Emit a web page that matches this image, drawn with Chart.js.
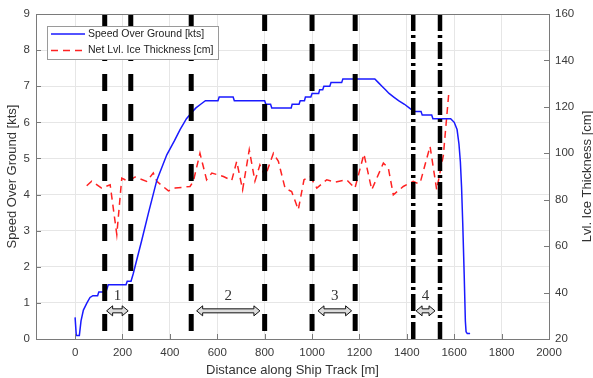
<!DOCTYPE html>
<html>
<head>
<meta charset="utf-8">
<script src="https://cdn.jsdelivr.net/npm/chart.js@4.4.1/dist/chart.umd.min.js"></script>
<style>
  html, body { margin: 0; padding: 0; background: #fff; }
  #wrap { width: 593px; height: 378px; position: relative; }
</style>
</head>
<body>
<div id="wrap"><canvas id="chart"></canvas></div>
<script>
// Speed over ground [kts] vs distance [m] (step corners)
var speedDist = [0, 5, 18, 25, 35, 50, 63, 75, 95, 100, 130, 135, 140, 215, 220, 236, 245,
    280, 310, 345, 387, 420, 443, 470, 492, 510, 530, 550, 603, 608, 667, 672, 800, 805, 825, 830,
    912, 916, 945, 950, 968, 972, 995, 1000, 1028, 1032, 1045, 1050, 1075, 1080, 1125, 1130,
    1265, 1280, 1295, 1310, 1325, 1345, 1365, 1390, 1410, 1430, 1460, 1465, 1505, 1510, 1585,
    1600, 1612, 1620, 1626, 1631, 1636, 1642, 1647, 1650, 1655, 1667];
var speedKts = [0.6, 0.1, 0.1, 0.5, 0.8, 1.0, 1.15, 1.2, 1.2, 1.3, 1.3, 1.4, 1.5, 1.5, 1.6, 1.6, 1.8,
    2.7, 3.5, 4.4, 5.1, 5.5, 5.8, 6.1, 6.27, 6.4, 6.5, 6.6, 6.6, 6.7, 6.7, 6.6, 6.6, 6.5, 6.5, 6.4,
    6.4, 6.5, 6.5, 6.6, 6.6, 6.7, 6.7, 6.8, 6.8, 6.9, 6.9, 7.0, 7.0, 7.1, 7.1, 7.2,
    7.2, 7.1, 7.0, 6.9, 6.8, 6.7, 6.6, 6.5, 6.4, 6.3, 6.3, 6.2, 6.2, 6.1, 6.1,
    6.0, 5.8, 5.4, 4.9, 4.2, 3.2, 1.8, 0.5, 0.2, 0.15, 0.15];

// Net level ice thickness [cm] vs distance [m]
var iceDist = [49, 70, 112, 148, 176, 197, 225, 253, 302, 330, 345, 394, 422, 485, 499, 527, 555,
    577, 626, 661, 682, 707, 735, 759, 780, 802, 837, 858, 886, 914, 942, 966, 992, 1020, 1062,
    1097, 1146, 1181, 1219, 1252, 1301, 1322, 1343, 1385, 1427, 1441, 1456, 1498, 1526, 1554, 1578];
var iceCm = [86, 88, 85, 86.4, 65, 89.3, 87.9, 89.8, 87.9, 91.5, 87.9, 83.8, 85, 85.7, 87.9, 100, 88.6,
    91.5, 90, 88.3, 96.5, 84.3, 101.5, 88, 95, 90, 100, 96.5, 85, 83.5, 75.7, 88.6, 90, 85, 88.6,
    87.6, 88.6, 85, 99.7, 84.3, 95.8, 93.6, 82.1, 85.7, 87.9, 87.2, 87.2, 103, 84.3, 99, 127];

// Section boundaries [m]
var dashedAt = [125, 235, 490, 800, 1000, 1182];
var dashDotAt = [1427, 1540];

// Section arrows [m] and their labels
var arrowFrom = [133, 513, 1025, 1439];
var arrowTo = [224, 780, 1167, 1519];
var arrowLabels = ['1', '2', '3', '4'];
var arrowLevel = 0.78;

// Axis ticks
var xTicks = [0, 200, 400, 600, 800, 1000, 1200, 1400, 1600, 1800, 2000];
var speedTicks = [0, 1, 2, 3, 4, 5, 6, 7, 8, 9];
var iceTicks = [20, 40, 60, 80, 100, 120, 140, 160];

var SANS = '"Liberation Sans", Arial, sans-serif';
var SERIF = '"Liberation Serif", "DejaVu Serif", serif';
var TICK_COLOR = '#3a3a3a';

function pairs(xs, ys) {
    return xs.map(function (x, i) { return { x: x, y: ys[i] }; });
}

function plainLabel(v) {
    return String(v);
}

function boundaryLine(x, dash, width) {
    return {
        data: [{ x: x, y: speedTicks[speedTicks.length - 1] }, { x: x, y: speedTicks[0] }],
        yAxisID: 'y',
        borderColor: '#000',
        borderWidth: width,
        borderDash: dash,
        borderCapStyle: 'butt',
        pointRadius: 0,
        fill: false
    };
}

var datasets = [];
dashedAt.forEach(function (x) { datasets.push(boundaryLine(x, [17, 13], 5)); });
dashDotAt.forEach(function (x) { datasets.push(boundaryLine(x, [17, 4, 3, 4], 4.5)); });

datasets.push({
    label: 'Speed Over Ground [kts]',
    data: pairs(speedDist, speedKts),
    yAxisID: 'y',
    borderColor: '#1a1aff',
    borderWidth: 1.5,
    pointRadius: 0,
    tension: 0
});
datasets.push({
    label: 'Net Lvl. Ice Thickness [cm]',
    data: pairs(iceDist, iceCm),
    yAxisID: 'y2',
    borderColor: '#ff2222',
    borderWidth: 1.5,
    borderDash: [7, 5],
    pointRadius: 0,
    tension: 0
});

// Frame, inward ticks, section arrows, legend and right axis title
var decorPlugin = {
    id: 'decor',
    afterDatasetsDraw: function (chart) {
        var ctx = chart.ctx;
        var xs = chart.scales.x, ys = chart.scales.y;
        var yPix = ys.getPixelForValue(arrowLevel);
        ctx.save();
        arrowFrom.forEach(function (from, i) {
            var x1 = xs.getPixelForValue(from);
            var x2 = xs.getPixelForValue(arrowTo[i]);
            var hl = 6, hh = 5, sh = 2;
            ctx.beginPath();
            ctx.moveTo(x1, yPix);
            ctx.lineTo(x1 + hl, yPix - hh);
            ctx.lineTo(x1 + hl, yPix - sh);
            ctx.lineTo(x2 - hl, yPix - sh);
            ctx.lineTo(x2 - hl, yPix - hh);
            ctx.lineTo(x2, yPix);
            ctx.lineTo(x2 - hl, yPix + hh);
            ctx.lineTo(x2 - hl, yPix + sh);
            ctx.lineTo(x1 + hl, yPix + sh);
            ctx.lineTo(x1 + hl, yPix + hh);
            ctx.closePath();
            ctx.fillStyle = '#dcdcdc';
            ctx.fill();
            ctx.strokeStyle = '#111';
            ctx.lineWidth = 1;
            ctx.stroke();

            ctx.fillStyle = '#333';
            ctx.font = '15px ' + SERIF;
            ctx.textAlign = 'center';
            ctx.textBaseline = 'middle';
            ctx.fillText(arrowLabels[i], (x1 + x2) / 2, yPix - 15);
        });
        ctx.restore();
    },
    afterDraw: function (chart) {
        var ctx = chart.ctx;
        var a = chart.chartArea;
        var ys = chart.scales.y, y2 = chart.scales.y2, xs = chart.scales.x;
        ctx.save();

        // box
        ctx.strokeStyle = '#7a7a7a';
        ctx.lineWidth = 1;
        ctx.strokeRect(Math.round(a.left) + 0.5, Math.round(a.top) + 0.5,
            Math.round(a.right - a.left), Math.round(a.bottom - a.top));

        // inward ticks
        ctx.beginPath();
        speedTicks.forEach(function (v) {
            var p = Math.round(ys.getPixelForValue(v)) + 0.5;
            ctx.moveTo(a.left, p); ctx.lineTo(a.left + 5, p);
        });
        iceTicks.forEach(function (v) {
            var p = Math.round(y2.getPixelForValue(v)) + 0.5;
            ctx.moveTo(a.right, p); ctx.lineTo(a.right - 5, p);
        });
        xTicks.forEach(function (v) {
            var p = Math.round(xs.getPixelForValue(v)) + 0.5;
            ctx.moveTo(p, a.bottom); ctx.lineTo(p, a.bottom - 5);
        });
        ctx.stroke();

        // legend
        var lx = a.left + 11, ly = a.top + 12, lw = 171, lh = 33;
        ctx.fillStyle = '#fff';
        ctx.fillRect(lx, ly, lw, lh);
        ctx.strokeStyle = '#9a9a9a';
        ctx.strokeRect(lx + 0.5, ly + 0.5, lw, lh);
        var spd = chart.data.datasets[chart.data.datasets.length - 2];
        var ice = chart.data.datasets[chart.data.datasets.length - 1];
        [spd, ice].forEach(function (ds, i) {
            var yy = ly + 8 + i * 16.5;
            ctx.beginPath();
            ctx.setLineDash(ds.borderDash || []);
            ctx.strokeStyle = ds.borderColor;
            ctx.lineWidth = 1.5;
            ctx.moveTo(lx + 4, yy);
            ctx.lineTo(lx + 38, yy);
            ctx.stroke();
            ctx.setLineDash([]);
            ctx.fillStyle = '#222';
            ctx.font = '10.5px ' + SANS;
            ctx.textAlign = 'left';
            ctx.textBaseline = 'middle';
            ctx.fillText(ds.label, lx + 41, yy);
        });

        // right axis title, reading bottom to top
        ctx.translate(587, (a.top + a.bottom) / 2);
        ctx.rotate(-Math.PI / 2);
        ctx.fillStyle = '#333';
        ctx.font = '13px ' + SANS;
        ctx.textAlign = 'center';
        ctx.textBaseline = 'middle';
        ctx.fillText('Lvl. Ice Thickness [cm]', 0, 0);
        ctx.restore();
    }
};

new Chart(document.getElementById('chart'), {
    type: 'line',
    data: { datasets: datasets },
    plugins: [decorPlugin],
    options: {
        responsive: true,
        maintainAspectRatio: false,
        animation: false,
        layout: { padding: { top: 14, left: 0, right: 0, bottom: 0 } },
        plugins: {
            legend: { display: false },
            tooltip: { enabled: false }
        },
        scales: {
            x: {
                type: 'linear',
                min: -165,
                max: xTicks[xTicks.length - 1],
                afterFit: function (s) { s.height = 39; },
                afterBuildTicks: function (s) { s.ticks = xTicks.map(function (v) { return { value: v }; }); },
                ticks: { font: { family: SANS, size: 11.5 }, color: TICK_COLOR, padding: 7, maxRotation: 0, callback: plainLabel },
                grid: { color: '#e6e6e6', drawTicks: false },
                border: { color: '#7a7a7a' },
                title: {
                    display: true,
                    text: 'Distance along Ship Track [m]',
                    font: { family: SANS, size: 13 },
                    color: '#333',
                    padding: { top: 0, bottom: 0 }
                }
            },
            y: {
                position: 'left',
                min: speedTicks[0],
                max: speedTicks[speedTicks.length - 1],
                afterFit: function (s) { s.width = 36; },
                afterBuildTicks: function (s) { s.ticks = speedTicks.map(function (v) { return { value: v }; }); },
                ticks: { font: { family: SANS, size: 11.5 }, color: TICK_COLOR, padding: 6, callback: plainLabel },
                grid: { color: '#e6e6e6', drawTicks: false },
                border: { color: '#7a7a7a' },
                title: {
                    display: true,
                    text: 'Speed Over Ground [kts]',
                    font: { family: SANS, size: 13 },
                    color: '#333',
                    padding: { top: 5, bottom: 0 }
                }
            },
            y2: {
                position: 'right',
                min: iceTicks[0],
                max: iceTicks[iceTicks.length - 1],
                afterFit: function (s) { s.width = 44; },
                afterBuildTicks: function (s) { s.ticks = iceTicks.map(function (v) { return { value: v }; }); },
                ticks: { font: { family: SANS, size: 11.5 }, color: TICK_COLOR, padding: 6, callback: plainLabel },
                grid: { display: false, drawTicks: false },
                border: { color: '#7a7a7a' }
            }
        }
    }
});
</script>
</body>
</html>
